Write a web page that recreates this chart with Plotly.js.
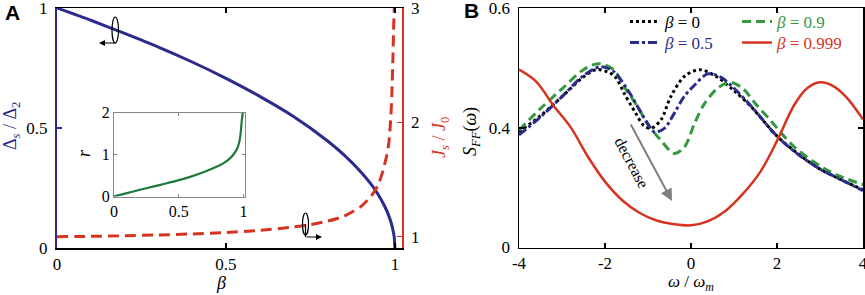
<!DOCTYPE html>
<html><head><meta charset="utf-8">
<script src="https://cdn.plot.ly/plotly-3.0.1.min.js"></script>
<style>html,body{margin:0;padding:0;background:#fff}</style>
</head><body>
<div id="chart" style="width:865px;height:295px"></div>
<script>
// ---- Panel A data ----
const betaDelta = [0,0.1,0.2,0.3,0.4,0.5,0.6,0.7,0.8,0.85,0.9,0.93,0.95,0.97,0.98,0.99,0.995,0.998,1.0];
const deltaRatio = [1,0.949,0.894,0.837,0.775,0.707,0.632,0.548,0.447,0.387,0.316,0.265,0.224,0.173,0.141,0.1,0.07,0.045,0];
const betaJ = [0,0.1,0.2,0.3,0.4,0.5,0.6,0.7,0.75,0.8,0.85,0.9,0.93,0.95,0.965,0.975,0.982,0.985,0.988,0.991,0.994,0.996,0.998];
const jRatio = [1.0,1.003,1.008,1.015,1.024,1.037,1.055,1.085,1.105,1.135,1.18,1.265,1.355,1.45,1.58,1.7,1.82,1.92,2.05,2.25,2.55,2.8,3.0];
// inset
const betaR = [0,0.1,0.2,0.3,0.4,0.5,0.6,0.7,0.8,0.85,0.9,0.93,0.95,0.97,0.975,0.98,0.985,0.99,0.995];
const rVals = [0,0.08,0.16,0.235,0.31,0.39,0.48,0.59,0.72,0.8,0.92,1.03,1.13,1.33,1.43,1.56,1.74,1.88,2.0];
// ---- Panel B data ----
const omegaB0 = [-4,-3.5,-3,-2.5,-2.2,-1.9,-1.75,-1.55,-1.3,-1.1,-0.93,-0.7,-0.47,-0.15,0.2,0.6,1,1.4,2,2.5,3,3.5,4];
const sB0 = [0.393,0.42,0.452,0.485,0.497,0.492,0.484,0.457,0.426,0.404,0.399,0.413,0.452,0.486,0.497,0.485,0.462,0.435,0.386,0.356,0.331,0.313,0.296];
const omegaB05 = [-4,-3.5,-3,-2.5,-2.1,-1.8,-1.47,-1.24,-1.01,-0.85,-0.62,-0.39,-0.16,0.08,0.39,0.7,1,1.4,2,2.5,3,3.5,4];
const sB05 = [0.388,0.418,0.452,0.487,0.502,0.494,0.463,0.435,0.407,0.393,0.399,0.424,0.452,0.471,0.49,0.484,0.466,0.436,0.386,0.355,0.331,0.313,0.295];
const omegaB09 = [-4,-3.5,-3,-2.5,-2.15,-1.8,-1.55,-1.25,-1.01,-0.7,-0.39,-0.15,0.08,0.31,0.62,0.9,1.2,1.5,1.78,2.4,3.1,3.5,4];
const sB09 = [0.396,0.432,0.465,0.497,0.507,0.497,0.468,0.436,0.407,0.379,0.357,0.368,0.407,0.44,0.466,0.476,0.466,0.44,0.418,0.368,0.332,0.318,0.305];
const omegaB0999 = [-4,-3.6,-3.2,-2.8,-2.4,-2.0,-1.6,-1.2,-0.8,-0.4,0,0.4,0.8,1.2,1.6,2.0,2.4,2.7,3.0,3.3,3.6,4];
const sB0999 = [0.497,0.477,0.437,0.401,0.352,0.31,0.279,0.258,0.245,0.239,0.237,0.244,0.261,0.289,0.325,0.378,0.438,0.466,0.476,0.47,0.452,0.414];
const legendNames = ['β = 0','β = 0.5','β = 0.9','β = 0.999'];

const W = 865, H = 295;
const px = x => x / W, py = y => 1 - y / H;
const BLUE = '#2b2b8c', RED = '#d63322', GREEN_IN = '#1d7a3c', GREEN = '#33993f', GRAY = '#7f7f7f';
const SERIF = '"Liberation Serif", "Times New Roman", Times, serif';
const fnt = (s, c) => ({family: SERIF, size: s, color: c || '#000'});
const lname = (n, c) => '<span style="color:' + c + '"><i>β</i>' + n.slice(1) + '</span>';

const traces = [
  {x: betaDelta, y: deltaRatio, xaxis: 'x', yaxis: 'y', mode: 'lines', line: {color: BLUE, width: 3, shape: 'spline', smoothing: 0.6}, showlegend: false},
  {x: betaJ, y: jRatio, xaxis: 'x', yaxis: 'y2', mode: 'lines', line: {color: RED, width: 3, dash: '11px,6px', shape: 'spline', smoothing: 0.6}, showlegend: false},
  {x: betaR, y: rVals, xaxis: 'x2', yaxis: 'y3', mode: 'lines', line: {color: GREEN_IN, width: 2.2, shape: 'spline', smoothing: 0.8}, showlegend: false},
  {x: omegaB0999, y: sB0999, xaxis: 'x3', yaxis: 'y4', mode: 'lines', line: {color: RED, width: 2.5, shape: 'spline', smoothing: 1}, name: lname(legendNames[3], RED), legend: 'legend2'},
  {x: omegaB09, y: sB09, xaxis: 'x3', yaxis: 'y4', mode: 'lines', line: {color: GREEN, width: 3, dash: '9px,5px', shape: 'spline', smoothing: 0.9}, name: lname(legendNames[2], GREEN), legend: 'legend'},
  {x: omegaB05, y: sB05, xaxis: 'x3', yaxis: 'y4', mode: 'lines', line: {color: BLUE, width: 3, dash: 'dashdot', shape: 'spline', smoothing: 0.9}, name: lname(legendNames[1], BLUE), legend: 'legend2'},
  {x: omegaB0, y: sB0, xaxis: 'x3', yaxis: 'y4', mode: 'lines', line: {color: '#000', width: 3, dash: 'dot', shape: 'spline', smoothing: 0.9}, name: lname(legendNames[0], '#000'), legend: 'legend'}
];
const order = [6,4,5,3];
const data = [traces[0], traces[1], traces[2]].concat(order.map(i => traces[i]));

const domAx = [px(57), px(402)], domAy = [py(248), py(8)];
const domBx = [px(519), px(863)], domBy = [py(247.5), py(8)];
const axBase = {ticks: 'inside', ticklen: 5, showgrid: false, zeroline: false, tickfont: fnt(17), fixedrange: true, ticklabeloverflow: 'allow', automargin: false};

const ann = (text, x, y, f, extra) => Object.assign({text: text, xref: 'paper', yref: 'paper', x: px(x), y: py(y),
  xanchor: 'center', yanchor: 'middle', showarrow: false, font: f}, extra || {});
const arrow = (x, y, ax, ay, color, w, size) => ({text: '', xref: 'paper', yref: 'paper', x: px(x), y: py(y), ax: ax, ay: ay,
  showarrow: true, arrowhead: 2, arrowsize: size, arrowwidth: w, arrowcolor: color, standoff: 0});
const SANS_B = {family: '"Liberation Sans", Arial, sans-serif', size: 21, color: '#000'};

const layout = {
  width: W, height: H, margin: {l: 0, r: 0, t: 0, b: 0, autoexpand: false},
  paper_bgcolor: '#fff', plot_bgcolor: 'rgba(0,0,0,0)',
  font: fnt(17),
  xaxis: Object.assign({}, axBase, {domain: domAx, range: [0, 1.021], anchor: 'y', tickvals: [0, 0.5, 1], ticktext: ['0', '0.5', '1'],
    showline: true, linecolor: '#000', linewidth: 1.5, mirror: 'ticks', tickcolor: '#000', tickwidth: 1.5}),
  yaxis: Object.assign({}, axBase, {domain: domAy, range: [0, 1], anchor: 'x', tickvals: [0, 0.5, 1], ticktext: ['0', '0.5', '1'],
    showline: true, linecolor: BLUE, linewidth: 2, tickcolor: BLUE, tickwidth: 2, ticklabelstandoff: 4}),
  yaxis2: Object.assign({}, axBase, {domain: domAy, range: [0.901, 3], overlaying: 'y', side: 'right', anchor: 'x', tickvals: [1, 2, 3], ticktext: ['1', '2', '3'],
    showline: true, linecolor: RED, linewidth: 1.5, tickcolor: RED, tickwidth: 1.5, ticklabelstandoff: 4}),
  xaxis2: Object.assign({}, axBase, {domain: [px(114), px(245)], range: [0, 1.012], anchor: 'y3', tickvals: [0, 0.5, 1], ticktext: ['0', '0.5', '1'],
    showline: true, linecolor: '#888', linewidth: 1, mirror: 'ticks', tickcolor: '#888', ticklen: 3, tickfont: fnt(16)}),
  yaxis3: Object.assign({}, axBase, {domain: [py(196.5), py(112.5)], range: [0, 2], anchor: 'x2', tickvals: [0, 1, 2], ticktext: ['0', '1', '2'],
    showline: true, linecolor: '#888', linewidth: 1, mirror: 'ticks', tickcolor: '#888', ticklen: 3, tickfont: fnt(16)}),
  xaxis3: Object.assign({}, axBase, {domain: domBx, range: [-4, 4], anchor: 'y4', tickvals: [-4, -2, 0, 2, 4], ticktext: ['-4', '-2', '0', '2', '4'],
    showline: true, linecolor: '#000', linewidth: 1.5, mirror: 'ticks', tickcolor: '#000', tickwidth: 1.5}),
  yaxis4: Object.assign({}, axBase, {domain: domBy, range: [0.2, 0.6], anchor: 'x3', tickvals: [0.2, 0.4, 0.6], ticktext: ['0', '0.4', '0.6'],
    showline: true, linecolor: '#000', linewidth: 1.5, mirror: 'ticks', tickcolor: '#000', tickwidth: 1.5, ticklabelstandoff: 4}),
  legend: {x: px(625), y: py(4), xanchor: 'left', yanchor: 'top', orientation: 'h', entrywidth: 67, entrywidthmode: 'pixels',
    bgcolor: 'rgba(0,0,0,0)', borderwidth: 0, font: fnt(17), itemwidth: 30, tracegroupgap: 0},
  legend2: {x: px(625), y: py(25), xanchor: 'left', yanchor: 'top', orientation: 'h', entrywidth: 67, entrywidthmode: 'pixels',
    bgcolor: 'rgba(0,0,0,0)', borderwidth: 0, font: fnt(17), itemwidth: 30, tracegroupgap: 0},
  shapes: [
    {type: 'circle', xref: 'paper', yref: 'paper', x0: px(112), x1: px(118.5), y0: py(43), y1: py(17), line: {color: '#000', width: 1.2}},
    {type: 'circle', xref: 'paper', yref: 'paper', x0: px(302.5), x1: px(308.5), y0: py(235), y1: py(213), line: {color: '#000', width: 1.2}},
    {type: 'line', xref: 'paper', yref: 'paper', x0: px(305.5), x1: px(305.5), y0: py(224), y1: py(237), line: {color: '#000', width: 1.2}}
  ],
  annotations: [
    ann('<b>A</b>', 12, 12, SANS_B),
    ann('<b>B</b>', 471, 11, SANS_B),
    ann('Δ<sub><i>s</i></sub> / Δ<sub>2</sub>', 12, 126, fnt(18, BLUE), {textangle: -90}),
    ann('<i>J<sub>s</sub></i> / <i>J</i><sub>0</sub>', 440, 138, fnt(18, RED), {textangle: -90}),
    ann('<i>S<sub>FF</sub></i>(<i>ω</i>)', 471, 132, fnt(18), {textangle: -90}),
    ann('<i>r</i>', 84, 153, fnt(18), {textangle: -90}),
    ann('<i>β</i>', 221, 283, fnt(18)),
    ann('<i>ω</i> / <i>ω<sub>m</sub></i>', 691, 283, fnt(17)),
    arrow(99, 43, 18, 0, '#000', 1.2, 1),
    arrow(322, 237, -17, 0, '#000', 1.2, 1),
    arrow(672, 201, -42, -78, GRAY, 2, 1.2),
    ann('decrease', 632, 162, fnt(16), {textangle: 62})
  ]
};
Plotly.newPlot('chart', data, layout, {displayModeBar: false, staticPlot: true});
</script></body></html>
